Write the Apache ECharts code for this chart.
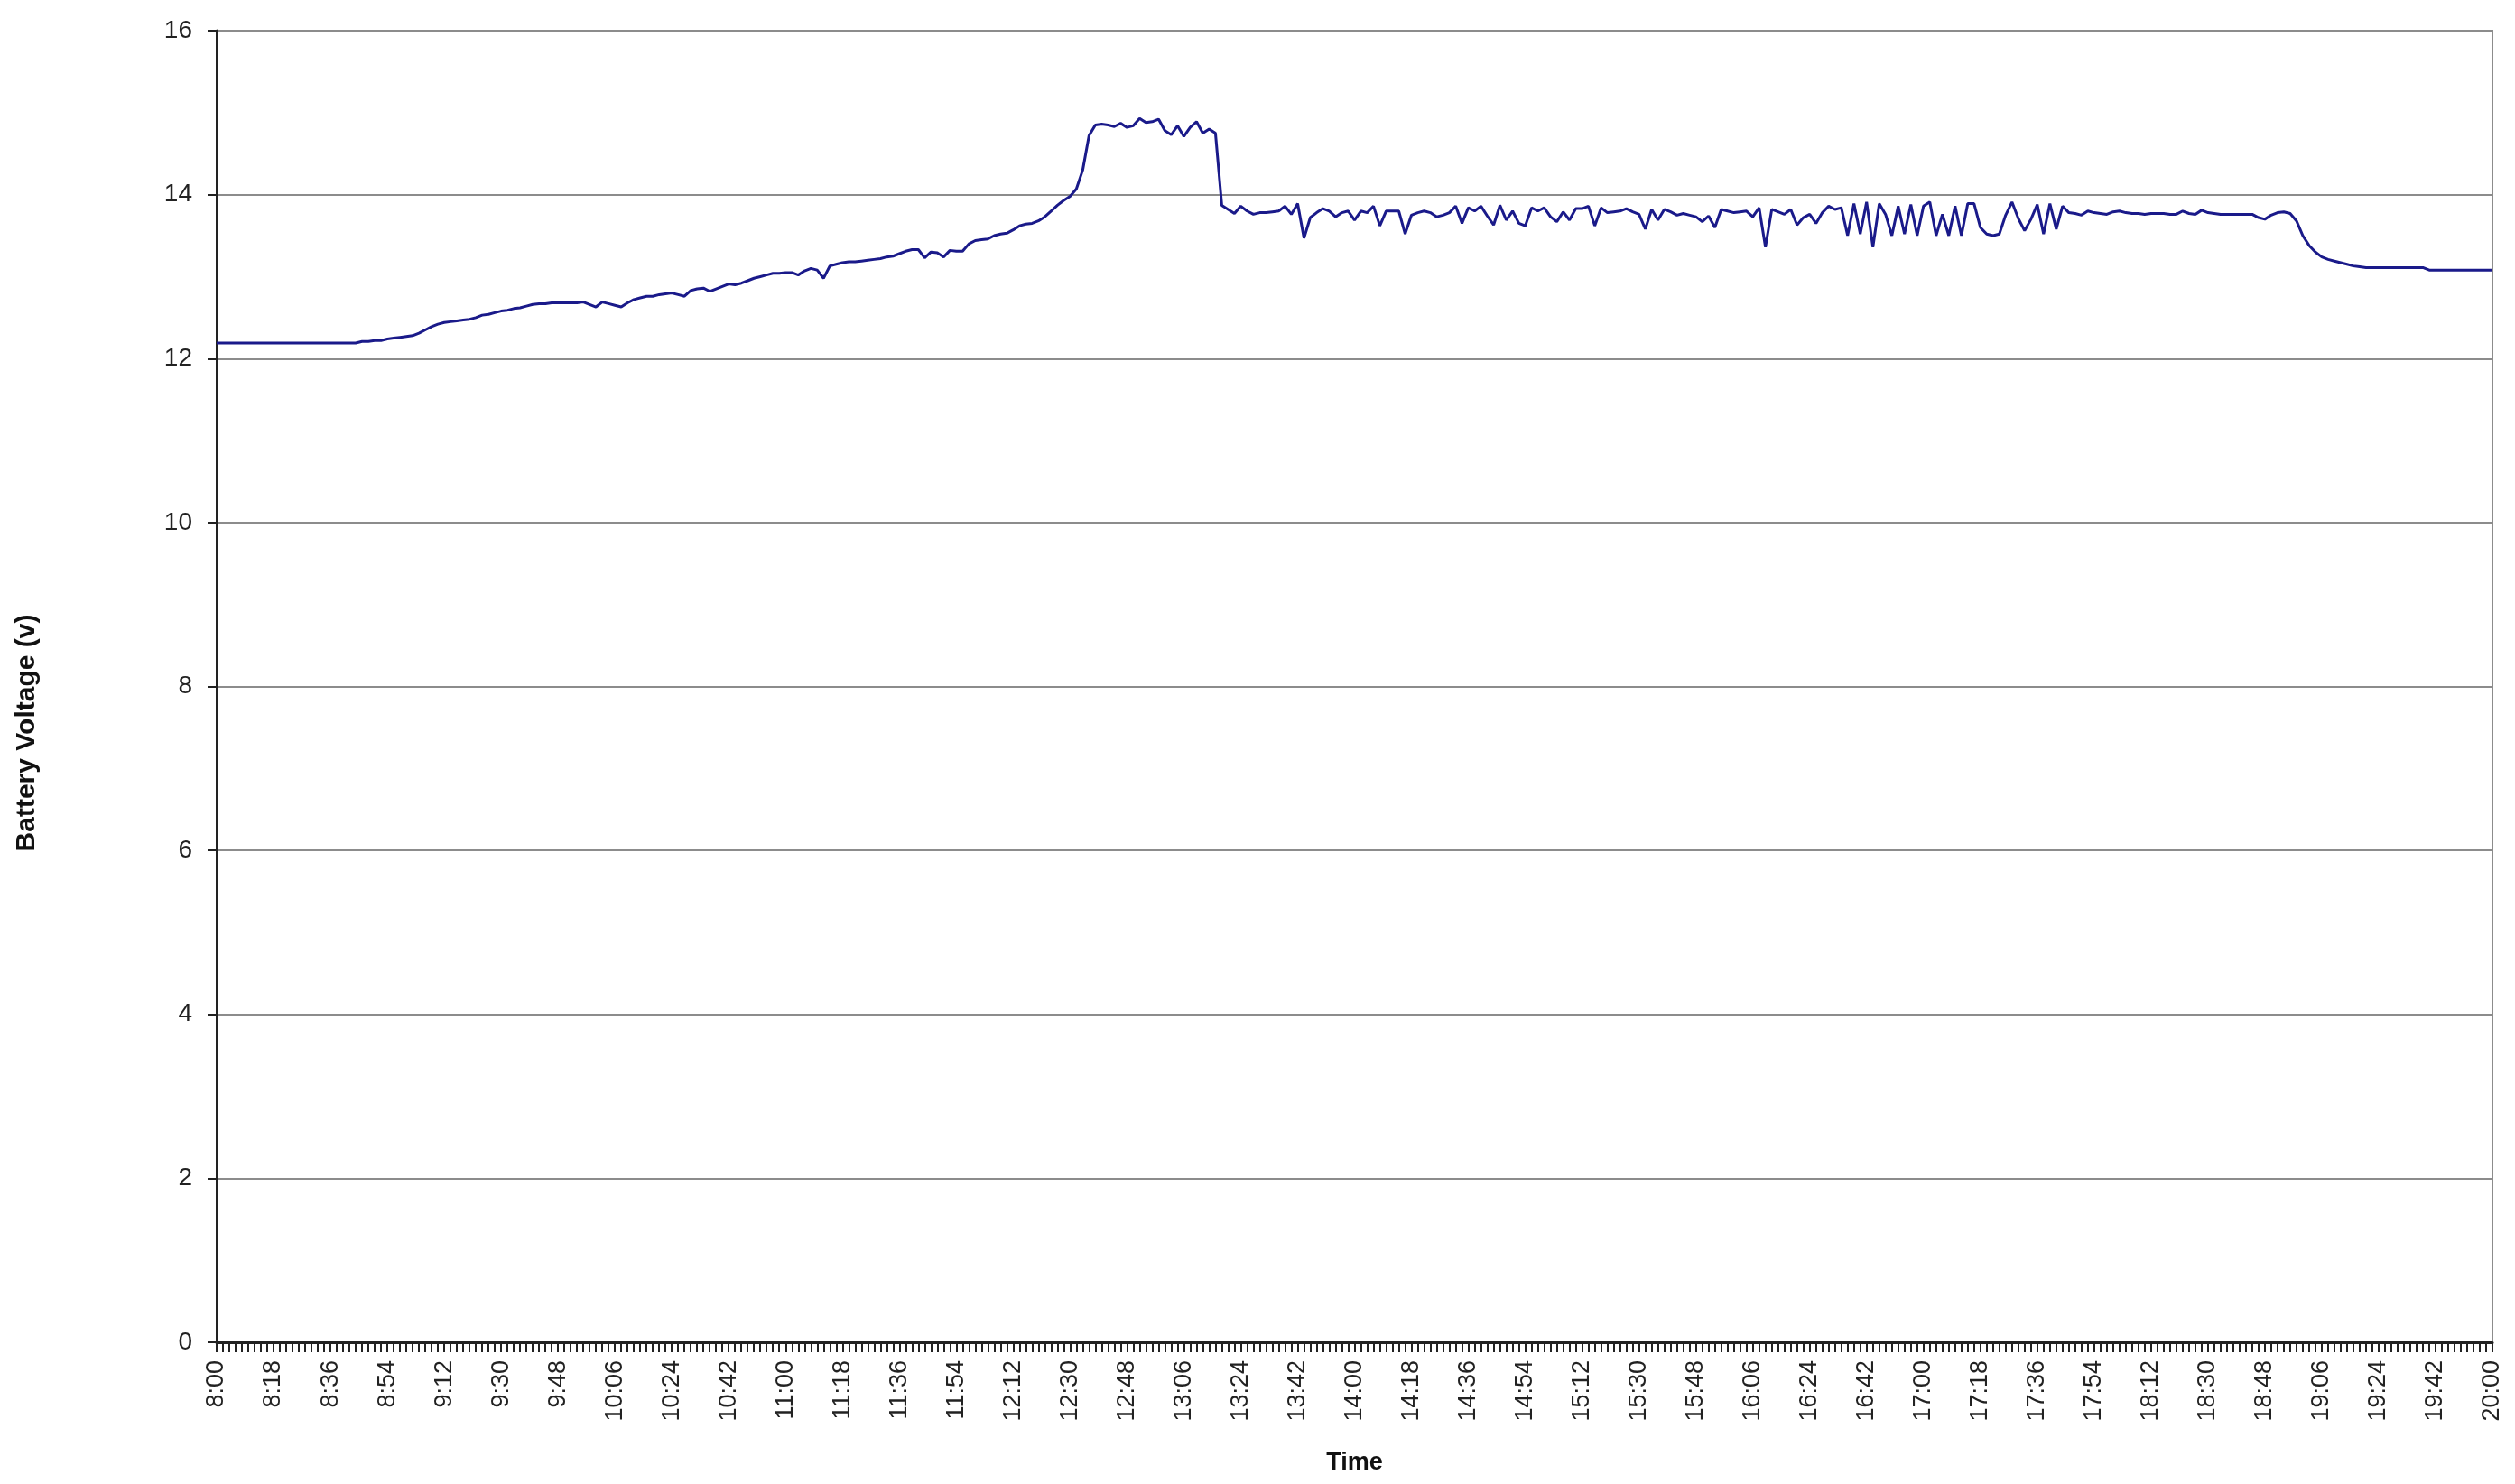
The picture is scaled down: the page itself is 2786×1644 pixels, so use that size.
<!DOCTYPE html>
<html>
<head>
<meta charset="utf-8">
<title>Battery Voltage</title>
<script src="https://cdn.jsdelivr.net/npm/echarts@6/dist/echarts.min.js"></script>
<style>
  html, body { margin: 0; padding: 0; background: #fff; }
  #main { width: 2786px; height: 1644px; }
</style>
</head>
<body>
<div id="main"></div>
<script>
// readings every 2 minutes, one array per hour (8:00 .. 19:58), then 20:00
var v08 = [12.19, 12.19, 12.19, 12.19, 12.19, 12.19, 12.19, 12.19, 12.19, 12.19,
  12.19, 12.19, 12.19, 12.19, 12.19, 12.19, 12.19, 12.19, 12.19, 12.19,
  12.19, 12.19, 12.19, 12.21, 12.21, 12.22, 12.22, 12.24, 12.25, 12.26];
var v09 = [12.27, 12.28, 12.31, 12.35, 12.39, 12.42, 12.44, 12.45, 12.46, 12.47,
  12.48, 12.5, 12.53, 12.54, 12.56, 12.58, 12.59, 12.61, 12.62, 12.64,
  12.66, 12.67, 12.67, 12.68, 12.68, 12.68, 12.68, 12.68, 12.69, 12.66];
var v10 = [12.63, 12.69, 12.67, 12.65, 12.63, 12.68, 12.72, 12.74, 12.76, 12.76,
  12.78, 12.79, 12.80, 12.78, 12.76, 12.83, 12.85, 12.86, 12.82, 12.85,
  12.88, 12.91, 12.9, 12.92, 12.95, 12.98, 13.0, 13.02, 13.04, 13.04];
var v11 = [13.05, 13.05, 13.02, 13.07, 13.10, 13.08, 12.98, 13.13, 13.15, 13.17,
  13.18, 13.18, 13.19, 13.20, 13.21, 13.22, 13.24, 13.25, 13.28, 13.31,
  13.33, 13.33, 13.23, 13.30, 13.29, 13.24, 13.32, 13.31, 13.31, 13.40];
var v12 = [13.44, 13.45, 13.46, 13.5, 13.52, 13.53, 13.57, 13.62, 13.64, 13.65,
  13.68, 13.73, 13.80, 13.87, 13.93, 13.98, 14.07, 14.3, 14.72, 14.85,
  14.86, 14.85, 14.83, 14.87, 14.82, 14.84, 14.93, 14.88, 14.89, 14.92];
var v13 = [14.78, 14.73, 14.84, 14.71, 14.82, 14.89, 14.75, 14.8, 14.75, 13.87,
  13.82, 13.77, 13.86, 13.8, 13.76, 13.78, 13.78, 13.79, 13.8, 13.86,
  13.76, 13.89, 13.47, 13.72, 13.78, 13.83, 13.8, 13.73, 13.78, 13.8];
var v14 = [13.69, 13.8, 13.78, 13.86, 13.62, 13.8, 13.8, 13.8, 13.52, 13.75,
  13.78, 13.8, 13.78, 13.73, 13.75, 13.78, 13.86, 13.65, 13.84, 13.8,
  13.86, 13.74, 13.63, 13.87, 13.69, 13.8, 13.65, 13.62, 13.84, 13.8];
var v15 = [13.84, 13.73, 13.67, 13.79, 13.69, 13.83, 13.83, 13.86, 13.62, 13.84,
  13.78, 13.79, 13.8, 13.83, 13.79, 13.76, 13.58, 13.82, 13.69, 13.82,
  13.79, 13.75, 13.77, 13.75, 13.73, 13.67, 13.74, 13.6, 13.82, 13.8];
var v16 = [13.78, 13.79, 13.8, 13.73, 13.84, 13.36, 13.82, 13.79, 13.76, 13.82,
  13.63, 13.72, 13.76, 13.65, 13.78, 13.86, 13.82, 13.84, 13.5, 13.89,
  13.52, 13.91, 13.36, 13.89, 13.76, 13.5, 13.86, 13.52, 13.88, 13.5];
var v17 = [13.86, 13.91, 13.5, 13.76, 13.5, 13.86, 13.5, 13.89, 13.89, 13.6,
  13.52, 13.5, 13.52, 13.75, 13.91, 13.71, 13.56, 13.7, 13.88, 13.52,
  13.89, 13.58, 13.86, 13.78, 13.77, 13.75, 13.8, 13.78, 13.77, 13.76];
var v18 = [13.79, 13.8, 13.78, 13.77, 13.77, 13.76, 13.77, 13.77, 13.77, 13.76,
  13.76, 13.8, 13.77, 13.76, 13.81, 13.78, 13.77, 13.76, 13.76, 13.76,
  13.76, 13.76, 13.76, 13.72, 13.70, 13.75, 13.78, 13.79, 13.77, 13.68];
var v19 = [13.5, 13.38, 13.30, 13.24, 13.21, 13.19, 13.17, 13.15, 13.13, 13.12,
  13.11, 13.11, 13.11, 13.11, 13.11, 13.11, 13.11, 13.11, 13.11, 13.11,
  13.08, 13.08, 13.08, 13.08, 13.08, 13.08, 13.08, 13.08, 13.08, 13.08];
var v20 = [13.08];

var voltage = [].concat(v08, v09, v10, v11, v12, v13, v14, v15, v16, v17, v18, v19, v20);

// time categories, 8:00 to 20:00 in 2 minute steps
var times = [];
for (var m = 8 * 60; m <= 20 * 60; m += 2) {
  var mm = m % 60;
  times.push(Math.floor(m / 60) + ":" + (mm < 10 ? "0" + mm : mm));
}

var yTicks = { min: 0, max: 16, interval: 2 };

var font = "'Liberation Sans', Arial, sans-serif";
var chart = echarts.init(document.getElementById("main"));

var option = {
  animation: false,
  backgroundColor: "#ffffff",
  grid: {
    left: 240,
    right: 25,
    top: 34,
    bottom: 157,
    show: true,
    borderColor: "#8c8c8c",
    borderWidth: 2
  },
  xAxis: {
    type: "category",
    data: times,
    boundaryGap: false,
    name: "Time",
    nameLocation: "middle",
    nameGap: 120,
    nameTextStyle: { fontFamily: font, fontSize: 27, fontWeight: "bold", color: "#111" },
    axisLine: { show: true, lineStyle: { color: "#222", width: 3 } },
    axisTick: { show: true, interval: 0, length: 11, lineStyle: { color: "#222", width: 2 } },
    axisLabel: {
      interval: 8,
      rotate: 90,
      margin: 20,
      fontFamily: font,
      fontSize: 27,
      color: "#222"
    },
    splitLine: { show: false }
  },
  yAxis: {
    type: "value",
    min: yTicks.min,
    max: yTicks.max,
    interval: yTicks.interval,
    axisLine: { show: true, lineStyle: { color: "#222", width: 3 } },
    axisTick: { show: true, length: 10, lineStyle: { color: "#222", width: 2 } },
    axisLabel: { margin: 27, fontFamily: font, fontSize: 28, color: "#222" },
    splitLine: { show: true, lineStyle: { color: "#8c8c8c", width: 2 } }
  },
  graphic: [
    {
      type: "text",
      x: 30,
      y: 812,
      rotation: Math.PI / 2,
      style: {
        text: "Battery Voltage (v)",
        fontFamily: font,
        fontSize: 30,
        fontWeight: "bold",
        fill: "#111",
        textAlign: "center",
        textVerticalAlign: "middle"
      }
    }
  ],
  series: [
    {
      name: "Battery Voltage",
      type: "line",
      data: voltage,
      showSymbol: false,
      smooth: false,
      lineStyle: { color: "#1a1a8a", width: 3 }
    }
  ]
};

chart.setOption(option);
</script>
</body>
</html>
